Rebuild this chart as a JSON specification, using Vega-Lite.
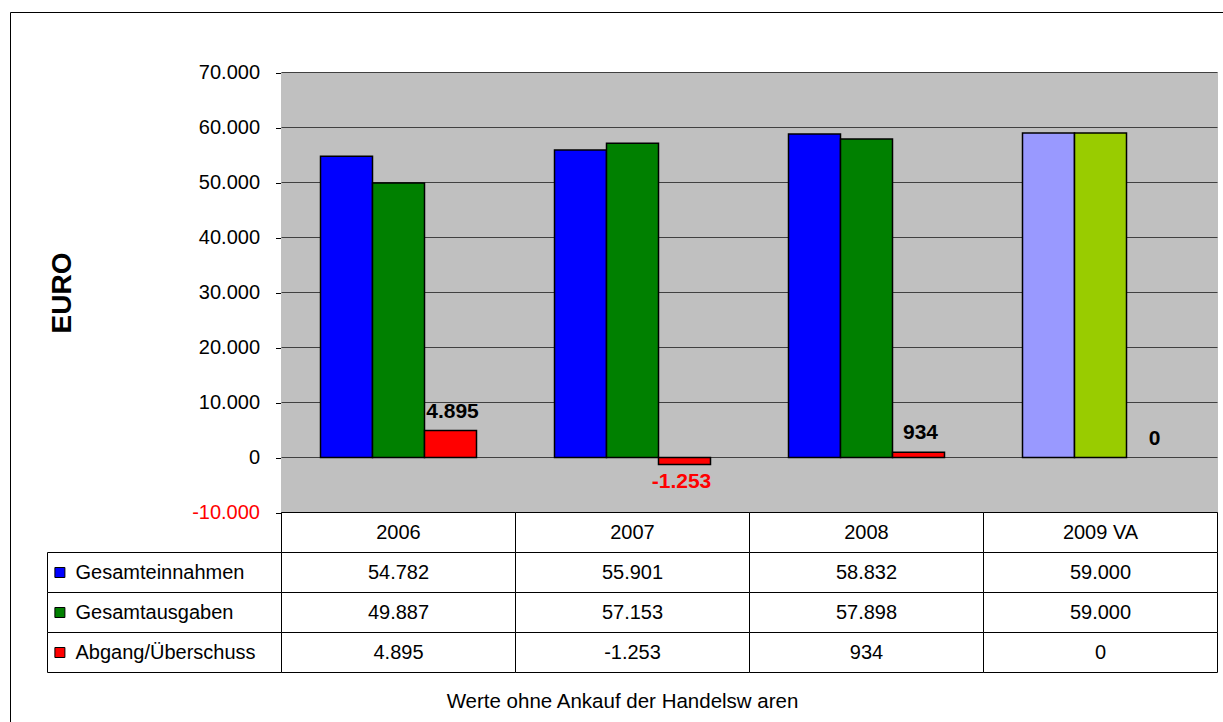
{
  "$schema": "https://vega.github.io/schema/vega-lite/v6.json",
  "width": 1213,
  "height": 710,
  "padding": {"left": 10, "top": 12, "right": 0, "bottom": 0},
  "autosize": {"type": "none"},
  "background": "white",
  "view": {"fill": "white", "stroke": "#000000", "strokeWidth": 1},
  "title": {
    "text": "Werte ohne Ankauf der Handelsw aren",
    "orient": "bottom",
    "frame": "group",
    "anchor": "middle",
    "baseline": "alphabetic",
    "offset": -14,
    "dx": 6,
    "font": "Liberation Sans",
    "fontSize": 20.5,
    "fontWeight": "normal",
    "color": "#000000"
  },
  "config": {
    "locale": {"number": {"decimal": ",", "thousands": ".", "grouping": [3], "currency": ["", " €"], "minus": "-"}},
    "font": "Liberation Sans"
  },
  "datasets": {
    "werte": [
      {"Jahr": "2006", "Reihe": "Gesamteinnahmen", "Wert": 54782},
      {"Jahr": "2006", "Reihe": "Gesamtausgaben", "Wert": 49887},
      {"Jahr": "2006", "Reihe": "Abgang/Überschuss", "Wert": 4895},
      {"Jahr": "2007", "Reihe": "Gesamteinnahmen", "Wert": 55901},
      {"Jahr": "2007", "Reihe": "Gesamtausgaben", "Wert": 57153},
      {"Jahr": "2007", "Reihe": "Abgang/Überschuss", "Wert": -1253},
      {"Jahr": "2008", "Reihe": "Gesamteinnahmen", "Wert": 58832},
      {"Jahr": "2008", "Reihe": "Gesamtausgaben", "Wert": 57898},
      {"Jahr": "2008", "Reihe": "Abgang/Überschuss", "Wert": 934},
      {"Jahr": "2009 VA", "Reihe": "Gesamteinnahmen", "Wert": 59000},
      {"Jahr": "2009 VA", "Reihe": "Gesamtausgaben", "Wert": 59000},
      {"Jahr": "2009 VA", "Reihe": "Abgang/Überschuss", "Wert": 0}
    ],
    "gitter": [
      {"Wert": -10000}, {"Wert": 0}, {"Wert": 10000}, {"Wert": 20000}, {"Wert": 30000},
      {"Wert": 40000}, {"Wert": 50000}, {"Wert": 60000}, {"Wert": 70000}
    ]
  },
  "resolve": {"scale": {"y": "independent"}},
  "layer": [
    {
      "layer": [
        {
          "data": {"name": "werte"},
          "transform": [{"filter": "datum.Reihe === 'Gesamteinnahmen'"}],
          "mark": {"type": "rect", "fill": "#C0C0C0", "stroke": "#C0C0C0", "strokeWidth": 1},
          "encoding": {
            "x": {
              "field": "Jahr", "type": "nominal",
              "scale": {"type": "band", "domain": ["Bezeichnung", "2006", "2007", "2008", "2009 VA"], "range": [37.5, 1207.5], "paddingInner": 0, "paddingOuter": 0},
              "axis": null
            },
            "y": {
              "datum": -10000, "type": "quantitative",
              "scale": {"type": "linear", "domain": [-10000, 70000], "range": [500.5, 60.5], "nice": false, "zero": false},
              "axis": {
                "values": [-10000, 0, 10000, 20000, 30000, 40000, 50000, 60000, 70000],
                "format": ",.0f",
                "offset": -271.5,
                "grid": false,
                "domain": true,
                "domainColor": "#000000",
                "domainWidth": 1,
                "ticks": true,
                "tickColor": "#000000",
                "tickSize": 6,
                "labelPadding": 16,
                "labelFont": "Liberation Sans",
                "labelFontSize": 20,
                "labelColor": {"expr": "datum.value < 0 ? '#FF0000' : '#000000'"},
                "title": "EURO",
                "titleFont": "Liberation Sans",
                "titleFontSize": 28,
                "titleFontWeight": "bold",
                "titleColor": "#000000",
                "titlePadding": 115
              }
            },
            "y2": {"datum": 70000}
          }
        },
        {
          "data": {"name": "gitter"},
          "mark": {"type": "rule", "color": "#404040", "strokeWidth": 1},
          "encoding": {
            "x": {"datum": "2006", "type": "nominal", "bandPosition": 0},
            "x2": {"datum": "2009 VA", "bandPosition": 1},
            "y": {"field": "Wert", "type": "quantitative"}
          }
        },
        {
          "data": {"name": "werte"},
          "transform": [{"filter": "datum.Wert !== 0"}],
          "mark": {"type": "bar", "stroke": "#000000", "strokeWidth": 1.5},
          "encoding": {
            "x": {"field": "Jahr", "type": "nominal"},
            "xOffset": {
              "field": "Reihe", "type": "nominal",
              "scale": {"domain": ["Gesamteinnahmen", "Gesamtausgaben", "Abgang/Überschuss"], "paddingInner": 0, "paddingOuter": 0.75}
            },
            "y": {"field": "Wert", "type": "quantitative"},
            "color": {
              "field": "Reihe", "type": "nominal",
              "scale": {"domain": ["Gesamteinnahmen", "Gesamtausgaben", "Abgang/Überschuss"], "range": ["#0000FF", "#008000", "#FF0000"]},
              "legend": null,
              "condition": [
                {"test": "datum.Jahr === '2009 VA' && datum.Reihe === 'Gesamteinnahmen'", "value": "#9999FF"},
                {"test": "datum.Jahr === '2009 VA' && datum.Reihe === 'Gesamtausgaben'", "value": "#99CC00"}
              ]
            }
          }
        },
        {
          "data": {"name": "werte"},
          "transform": [{"filter": "datum.Reihe === 'Abgang/Überschuss' && datum.Wert >= 0"}],
          "mark": {"type": "text", "font": "Liberation Sans", "fontSize": 21, "fontWeight": "bold", "fill": "#000000", "baseline": "middle", "dy": -19, "dx": 2},
          "encoding": {
            "x": {"field": "Jahr", "type": "nominal"},
            "xOffset": {"field": "Reihe", "type": "nominal"},
            "y": {"field": "Wert", "type": "quantitative"},
            "text": {"field": "Wert", "type": "quantitative", "format": ",.0f"}
          }
        },
        {
          "data": {"name": "werte"},
          "transform": [{"filter": "datum.Reihe === 'Abgang/Überschuss' && datum.Wert < 0"}],
          "mark": {"type": "text", "font": "Liberation Sans", "fontSize": 21, "fontWeight": "bold", "fill": "#FF0000", "baseline": "middle", "dy": 18, "dx": -3},
          "encoding": {
            "x": {"field": "Jahr", "type": "nominal"},
            "xOffset": {"field": "Reihe", "type": "nominal"},
            "y": {"field": "Wert", "type": "quantitative"},
            "text": {"field": "Wert", "type": "quantitative", "format": ",.0f"}
          }
        }
      ]
    },
    {
      "layer": [
        {
          "data": {"name": "werte"},
          "transform": [{"filter": "datum.Reihe === 'Gesamteinnahmen'"}],
          "mark": {"type": "rect", "fill": "white", "stroke": "#000000", "strokeWidth": 1},
          "encoding": {
            "x": {"field": "Jahr", "type": "nominal"},
            "y": {
              "datum": "Jahr", "type": "nominal",
              "scale": {"type": "band", "domain": ["Jahr", "Gesamteinnahmen", "Gesamtausgaben", "Abgang/Überschuss"], "range": [500.5, 660.5], "paddingInner": 0, "paddingOuter": 0},
              "axis": null
            }
          }
        },
        {
          "data": {"name": "werte"},
          "transform": [{"filter": "datum.Reihe === 'Gesamteinnahmen'"}],
          "mark": {"type": "text", "font": "Liberation Sans", "fontSize": 20, "fill": "#000000", "baseline": "middle", "align": "center"},
          "encoding": {
            "x": {"field": "Jahr", "type": "nominal"},
            "y": {"datum": "Jahr", "type": "nominal"},
            "text": {"field": "Jahr", "type": "nominal"}
          }
        },
        {
          "data": {"name": "werte"},
          "mark": {"type": "rect", "fill": "white", "stroke": "#000000", "strokeWidth": 1},
          "encoding": {
            "x": {"field": "Jahr", "type": "nominal"},
            "y": {"field": "Reihe", "type": "nominal"}
          }
        },
        {
          "data": {"name": "werte"},
          "mark": {"type": "text", "font": "Liberation Sans", "fontSize": 20, "fill": "#000000", "baseline": "middle", "align": "center"},
          "encoding": {
            "x": {"field": "Jahr", "type": "nominal"},
            "y": {"field": "Reihe", "type": "nominal"},
            "text": {"field": "Wert", "type": "quantitative", "format": ",.0f"}
          }
        },
        {
          "data": {"name": "werte"},
          "transform": [{"filter": "datum.Jahr === '2006'"}],
          "mark": {"type": "rect", "fill": "white", "stroke": "#000000", "strokeWidth": 1},
          "encoding": {
            "x": {"datum": "Bezeichnung", "type": "nominal"},
            "y": {"field": "Reihe", "type": "nominal"}
          }
        },
        {
          "data": {"name": "werte"},
          "transform": [{"filter": "datum.Jahr === '2006'"}],
          "mark": {"type": "point", "shape": "square", "filled": true, "size": 100, "stroke": "#000000", "strokeWidth": 1, "opacity": 1},
          "encoding": {
            "x": {"datum": "Bezeichnung", "type": "nominal", "bandPosition": 0.053},
            "y": {"field": "Reihe", "type": "nominal"},
            "color": {"field": "Reihe", "type": "nominal", "legend": null}
          }
        },
        {
          "data": {"name": "werte"},
          "transform": [{"filter": "datum.Jahr === '2006'"}],
          "mark": {"type": "text", "font": "Liberation Sans", "fontSize": 20, "fill": "#000000", "baseline": "middle", "align": "left", "dx": 28},
          "encoding": {
            "x": {"datum": "Bezeichnung", "type": "nominal", "bandPosition": 0},
            "y": {"field": "Reihe", "type": "nominal"},
            "text": {"field": "Reihe", "type": "nominal"}
          }
        }
      ]
    }
  ]
}
